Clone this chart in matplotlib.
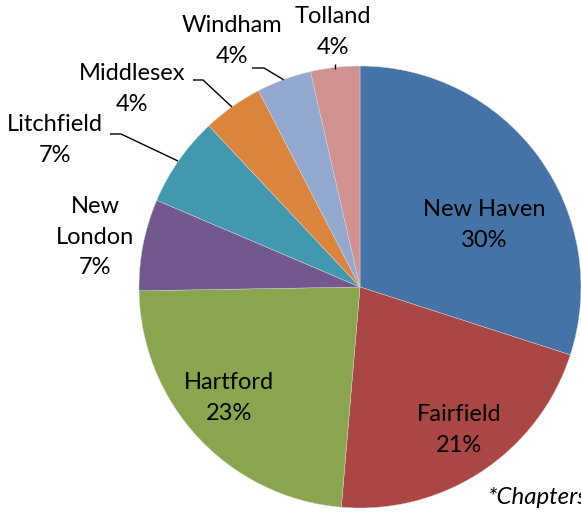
import matplotlib
matplotlib.use("Agg")
import matplotlib.pyplot as plt

# Data (share of chapters, % of total), clockwise from 12 o'clock
counties = ["New Haven", "Fairfield", "Hartford", "New London",
            "Litchfield", "Middlesex", "Windham", "Tolland"]
shares = [30.0, 21.4, 23.4, 6.7, 6.6, 4.4, 4.0, 3.6]
label_names = ["New Haven", "Fairfield", "Hartford", "New\nLondon",
               "Litchfield", "Middlesex", "Windham", "Tolland"]
colors = ["#4572A7", "#AA4643", "#89A54E", "#71588F",
          "#4198AF", "#DB843D", "#93A9CF", "#D19392"]
footnote = "*Chapters"

W, H = 581, 512
fig = plt.figure(figsize=(W / 100, H / 100), dpi=100)
ax = fig.add_axes([0, 0, 1, 1])

cx, cy, r = 360, H - 287, 221
ax.pie(shares, colors=colors, startangle=90, counterclock=False,
       center=(cx, cy), radius=r, frame=True,
       wedgeprops=dict(edgecolor="#d8d8d8", linewidth=0.3))
ax.set_xlim(0, W)
ax.set_ylim(0, H)
ax.set_aspect("equal")
ax.axis("off")

total = sum(shares)
pcts = [f"{100 * s / total:.0f}%" for s in shares]

font = "Lato"
fs = 17
# label centers in pixel coords (x, y from top)
label_pos = [(484, 225), (459, 430), (229, 398), (95, 237),
             (55, 140), (132, 89), (232, 41), (333, 32)]
for name, pct, (x, y) in zip(label_names, pcts, label_pos):
    ax.text(x, H - y, f"{name}\n{pct}", ha="center", va="center",
            fontsize=fs, family=font, linespacing=1.58, color="black")

# leader lines (pixel coords, y from top)
leaders = [
    [(110, 134), (121, 134), (178, 161)],
    [(193, 80), (203, 80), (232, 107)],
    [(252, 68), (264, 68), (284, 80)],
    [(335, 64), (335, 69)],
]
for pts in leaders:
    xs = [p[0] for p in pts]
    ys = [H - p[1] for p in pts]
    ax.plot(xs, ys, color="black", linewidth=1.0, solid_capstyle="butt")

ax.text(488, H - 497, footnote, ha="left", va="center", fontsize=17.3,
        family=font, style="italic", color="black", clip_on=False)

fig.savefig("out.png", dpi=100)
